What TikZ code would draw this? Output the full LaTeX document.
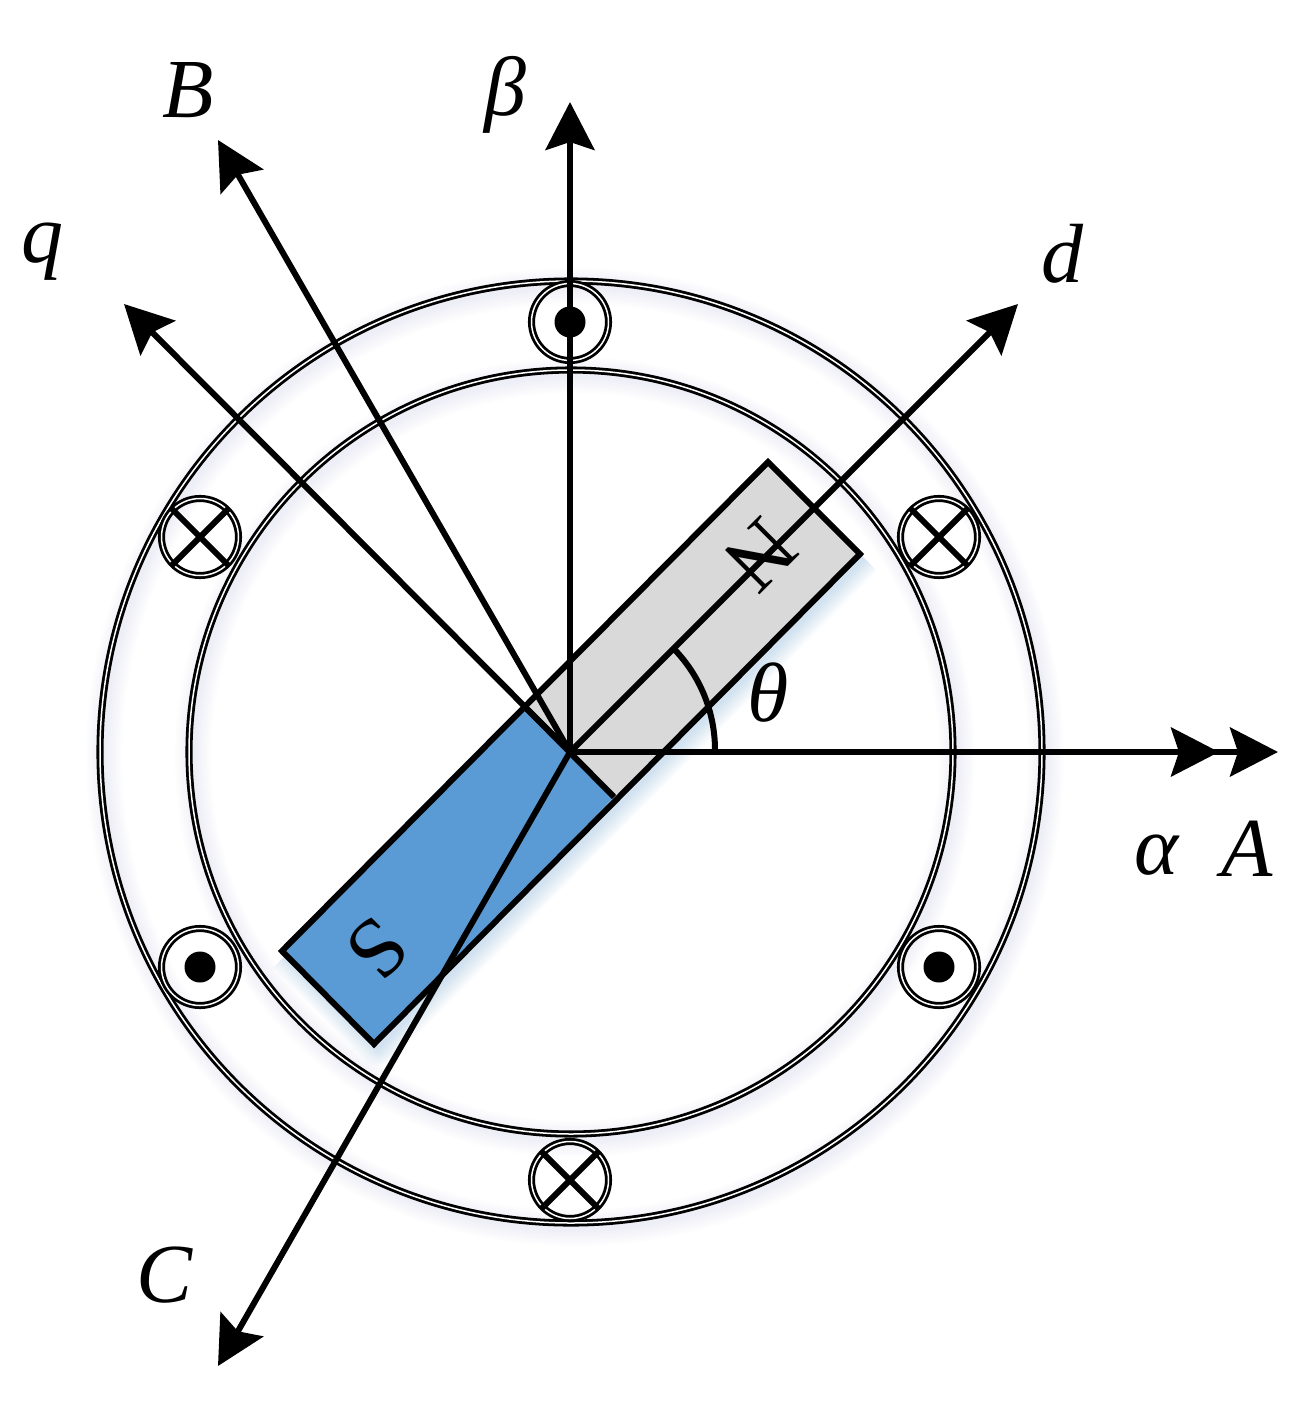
\documentclass[tikz,border=0pt]{standalone}
\usepackage{fontspec}
\setmainfont{Liberation Serif}
\usetikzlibrary{arrows.meta,calc}
\definecolor{poleS}{RGB}{91,155,213}
\definecolor{poleN}{RGB}{217,217,217}
\definecolor{glowc}{RGB}{91,155,213}
\tikzset{
  axisline/.style={line width=6pt,-{Stealth[length=48pt,width=49pt,inset=8pt]}},
  plainline/.style={line width=6pt},
  axislabel/.style={font=\fontsize{84}{84}\selectfont\itshape,inner sep=0pt},
  polelabel/.style={font=\fontsize{85}{85}\selectfont,inner sep=0pt},
  ringline/.style={draw,line width=2.8pt,double=white,double distance=1.5pt},
  coil/.style={circle,ringline,fill=none,minimum size=77pt,inner sep=0pt},
  dotmark/.style={circle,fill=black,minimum size=31pt,inner sep=0pt},
}
\begin{document}
\begin{tikzpicture}[x=1pt,y=-1pt]
\useasboundingbox (0,0) rectangle (1312,1408);
\fill[white] (0,0) rectangle (1312,1408);
\coordinate (O) at (570,752);
\coordinate (Ring) at (571,752);
% soft glow
\foreach \w in {4,8,...,36}{
  \draw[glowc,opacity=0.032,line width=\w pt,line join=round]
    (864,558) -- (378,1048) -- (286,955);
  \draw[glowc,opacity=0.010,line width=\w pt] (575,757) circle (471);
  \draw[glowc,opacity=0.010,line width=\w pt] (575,757) circle (382);
}
% rotor
\coordinate (R1) at (768,462);
\coordinate (R2) at (860,554);
\coordinate (R3) at (614,797);
\coordinate (R4) at (374,1044);
\coordinate (R5) at (282,951);
\coordinate (R6) at (526,708);
\fill[poleN] (R6) -- (R1) -- (R2) -- (R3) -- cycle;
\fill[poleS] (R6) -- (R3) -- (R4) -- (R5) -- cycle;
\draw[plainline,line join=miter] (R1) -- (R2) -- (R4) -- (R5) -- cycle;
\draw[plainline] (R6) -- (R3);
% rings
\draw[ringline] (Ring) circle (471);
\draw[ringline] (Ring) circle (382);
% coils
\node[coil] (c1) at (570,322) {};
\node[coil] (c2) at (200,537) {};
\node[coil] (c3) at (939,537) {};
\node[coil] (c4) at (200,967) {};
\node[coil] (c5) at (939,967) {};
\node[coil] (c6) at (570,1180) {};
\node[dotmark] (d1) at (c1) {};
\node[dotmark] (d4) at (c4) {};
\node[dotmark] (d5) at (c5) {};
\foreach \c in {c2,c3,c6}{
  \draw[line width=6pt] (\c.45) -- (\c.225);
  \draw[line width=6pt] (\c.135) -- (\c.315);
}
% pole letters
\node[polelabel,rotate=-135] (nN) at (760,555) {N};
\node[polelabel,rotate=-135] (nS) at (377,949) {S};
% axes
\coordinate (tA) at (1278,752);
\coordinate (tAlpha) at (1219,752);
\coordinate (tBeta) at (570,102);
\coordinate (tB) at (218,140);
\coordinate (tq) at (124,304);
\coordinate (td) at (1018,304);
\coordinate (tC) at (218,1366);
\draw[axisline] (O) -- (tA);
\draw[axisline] (O) -- (tAlpha);
\draw[axisline] (O) -- (tBeta);
\draw[axisline] (O) -- (tB);
\draw[axisline] (O) -- (tq);
\draw[axisline] (O) -- (td);
\draw[axisline] (O) -- (tC);
% angle
\draw[plainline] (715,750) arc[start angle=0,end angle=-45,radius=145];
% labels
\node[axislabel] (lB) at (188,90) {B};
\node[axislabel] (lbeta) at (505,95) {β};
\node[axislabel] (lq) at (42,252) {q};
\node[axislabel] (ld) at (1062,254) {d};
\node[axislabel] (ltheta) at (768,693) {θ};
\node[axislabel] (lalpha) at (1157,855) {α};
\node[axislabel] (lA) at (1247,849) {A};
\node[axislabel] (lC) at (165,1275) {C};
\end{tikzpicture}
\end{document}
